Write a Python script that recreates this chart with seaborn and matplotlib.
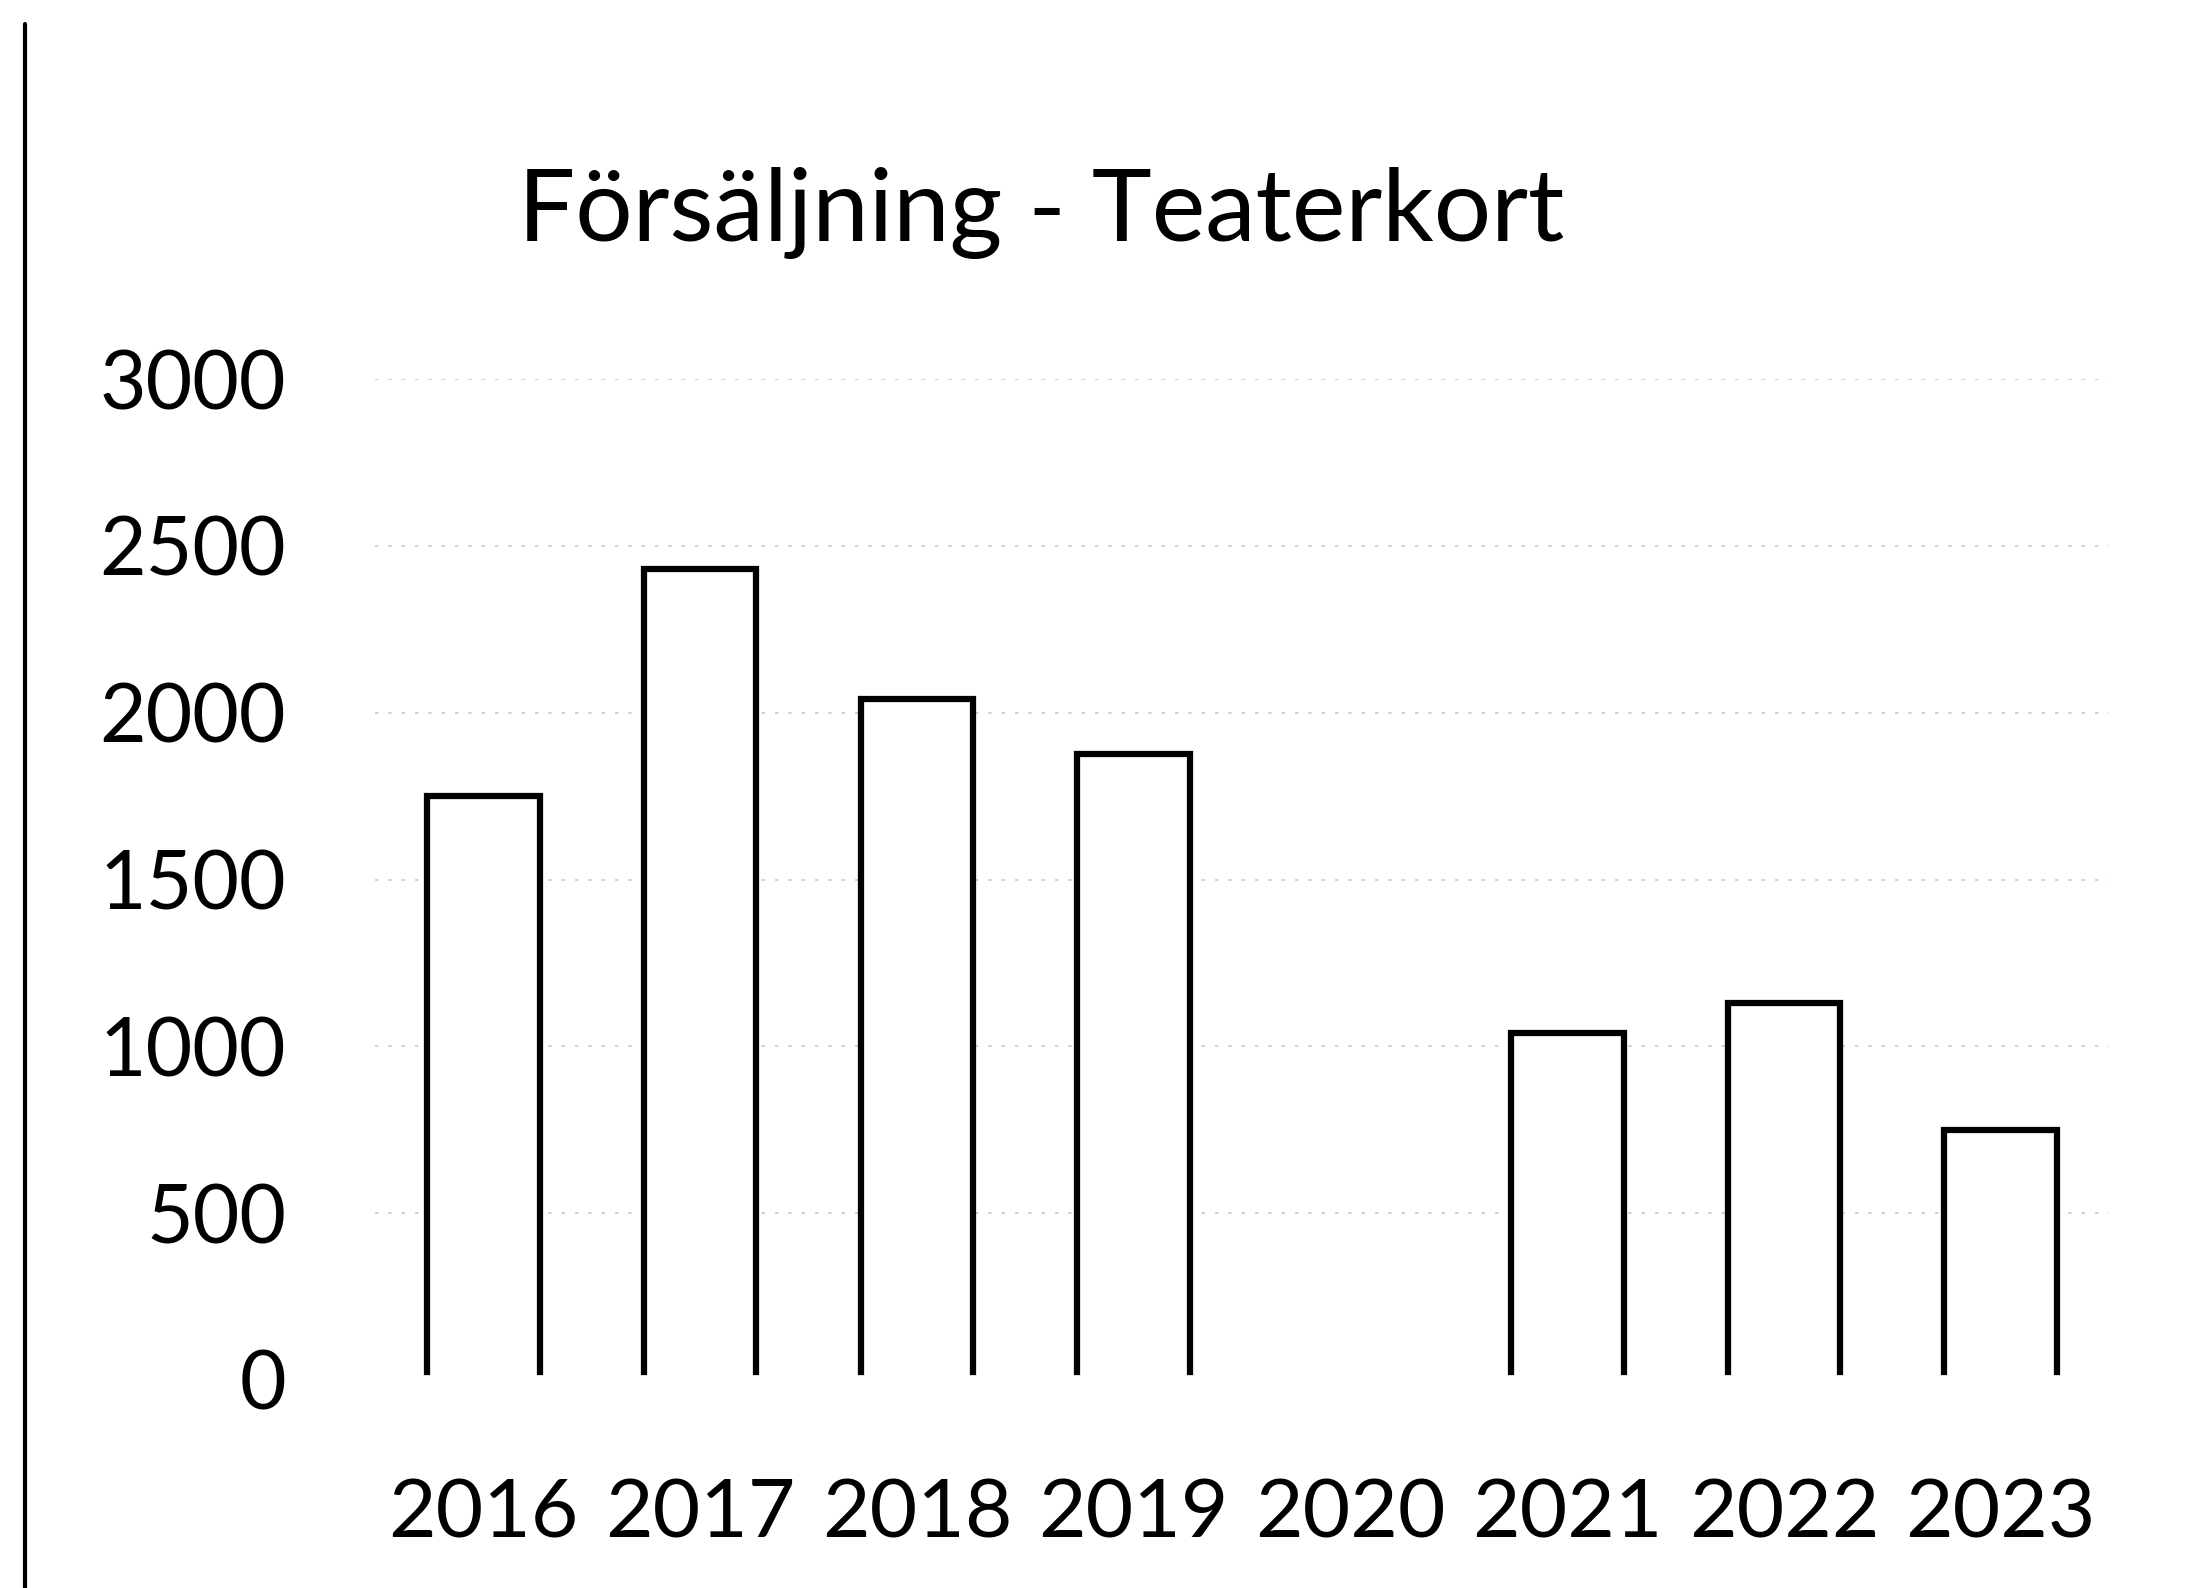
import matplotlib
matplotlib.use("Agg")
import pandas as pd
import seaborn as sns
import matplotlib.pyplot as plt
from matplotlib.lines import Line2D

# data
years = ["2016", "2017", "2018", "2019", "2020", "2021", "2022", "2023"]
sales = [1750, 2430, 2040, 1875, 0, 1040, 1130, 750]
yticks = [0, 500, 1000, 1500, 2000, 2500, 3000]

df = pd.DataFrame({"year": years, "sales": sales})

sns.set_style("white")
plt.rcParams["font.family"] = ["Lato", "DejaVu Sans"]
plt.rcParams["text.color"] = "black"
plt.rcParams["xtick.color"] = "black"
plt.rcParams["ytick.color"] = "black"

fig = plt.figure(figsize=(22.02, 15.88), dpi=100)
ax = fig.add_axes([0.1703, 0.131, 0.7875, 0.6303])

sns.barplot(data=df, x="year", y="sales", color="white", edgecolor="black",
            linewidth=4.5, width=0.52, ax=ax, zorder=3)
for bar in ax.patches:
    bar.set_facecolor("white")

# faint gridlines like the scanned original
for t in yticks[1:]:
    ax.axhline(t, color="#c8c8c8", lw=1.2, ls=(0, (2, 6)), zorder=1)
# hide the closed bottom edge of the bars
ax.axhline(0, color="white", lw=7, zorder=5)

ax.set_ylim(0, 3000)
ax.set_xlim(-0.5, len(years) - 0.5)
ax.set_yticks(yticks)
ax.set_yticklabels([str(t) for t in yticks])
ax.tick_params(axis="y", labelsize=58, pad=64, length=0, labelcolor="black")
ax.tick_params(axis="x", labelsize=59, pad=70, length=0, labelcolor="black")
ax.set_xlabel("")
ax.set_ylabel("")
sns.despine(ax=ax, left=True, bottom=True)

fig.text(0.4727, 0.866, "Försäljning - Teaterkort", ha="center", va="center",
         fontsize=73, color="black")

# dark scan edge at the left
fig.add_artist(Line2D([0.0115, 0.0115], [0.0, 0.985], color="black", lw=3))

fig.savefig("out.png", dpi=100, facecolor="white")
